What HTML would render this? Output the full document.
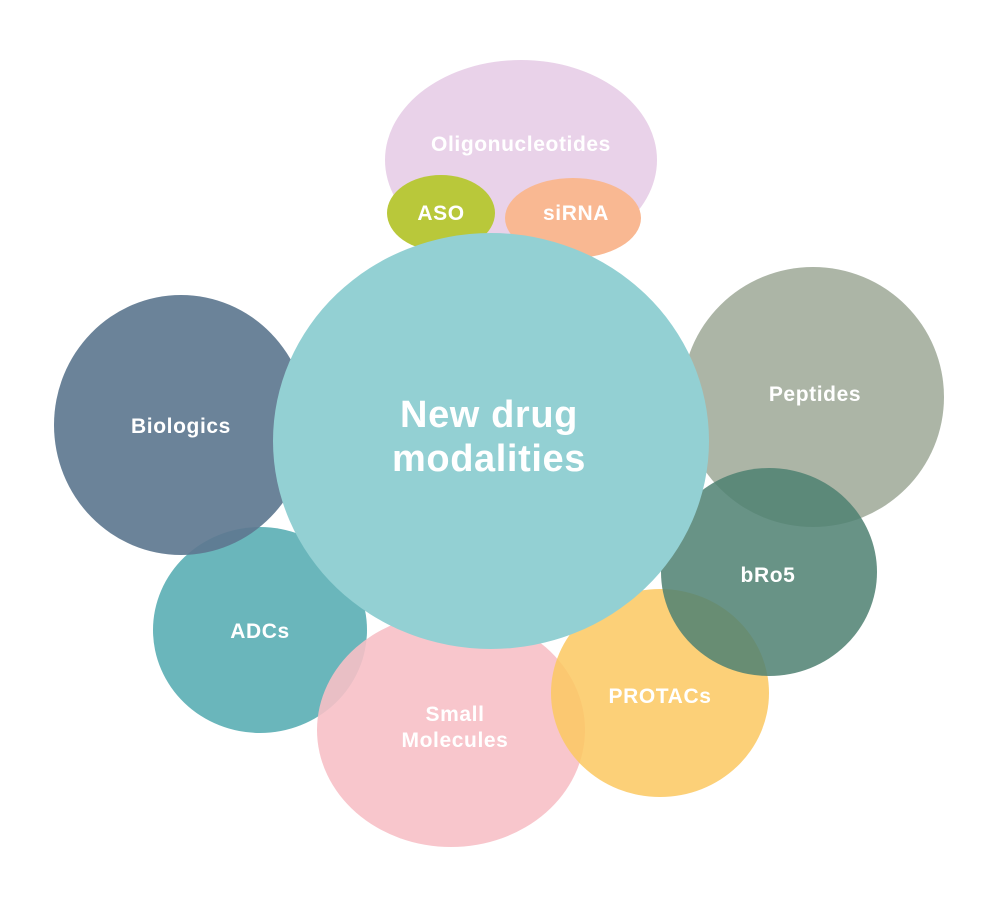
<!DOCTYPE html>
<html><head><meta charset="utf-8"><style>
html,body{margin:0;padding:0;background:#fff}
svg{display:block}
text{font-family:"Liberation Sans","DejaVu Sans",sans-serif;font-weight:bold;fill:#fff;text-anchor:middle;letter-spacing:0.6px}
</style></head><body>
<svg width="1000" height="909" viewBox="0 0 1000 909">
<ellipse cx="521" cy="160" rx="136" ry="100" fill="#e9d2e9"/>
<ellipse cx="441" cy="213" rx="54" ry="38" fill="#b9c83a"/>
<ellipse cx="573" cy="218" rx="68" ry="40" fill="#f9b892"/>
<ellipse cx="260" cy="630" rx="107" ry="103" fill="#6ab6bb"/>
<ellipse cx="181" cy="425" rx="127" ry="130" fill="#5e7890" opacity="0.92"/>
<ellipse cx="451" cy="730" rx="134" ry="117" fill="#f7c0c6" opacity="0.9"/>
<ellipse cx="813" cy="397" rx="131" ry="130" fill="#a3ad9c" opacity="0.9"/>
<ellipse cx="660" cy="693" rx="109" ry="104" fill="#fcc860" opacity="0.85"/>
<ellipse cx="769" cy="572" rx="108" ry="104" fill="#4f8172" opacity="0.86"/>
<ellipse cx="491" cy="441" rx="218" ry="208" fill="#93d0d3"/>
<text x="521" y="151" font-size="21">Oligonucleotides</text>
<text x="441" y="220" font-size="21">ASO</text>
<text x="576" y="220" font-size="21">siRNA</text>
<text x="489" y="427" font-size="38">New drug</text>
<text x="489" y="471" font-size="38">modalities</text>
<text x="181" y="433" font-size="21">Biologics</text>
<text x="815" y="401" font-size="21">Peptides</text>
<text x="768" y="582" font-size="21">bRo5</text>
<text x="260" y="638" font-size="21">ADCs</text>
<text x="455" y="721" font-size="21">Small</text>
<text x="455" y="747" font-size="21">Molecules</text>
<text x="660" y="703" font-size="21">PROTACs</text>
</svg>
</body></html>
